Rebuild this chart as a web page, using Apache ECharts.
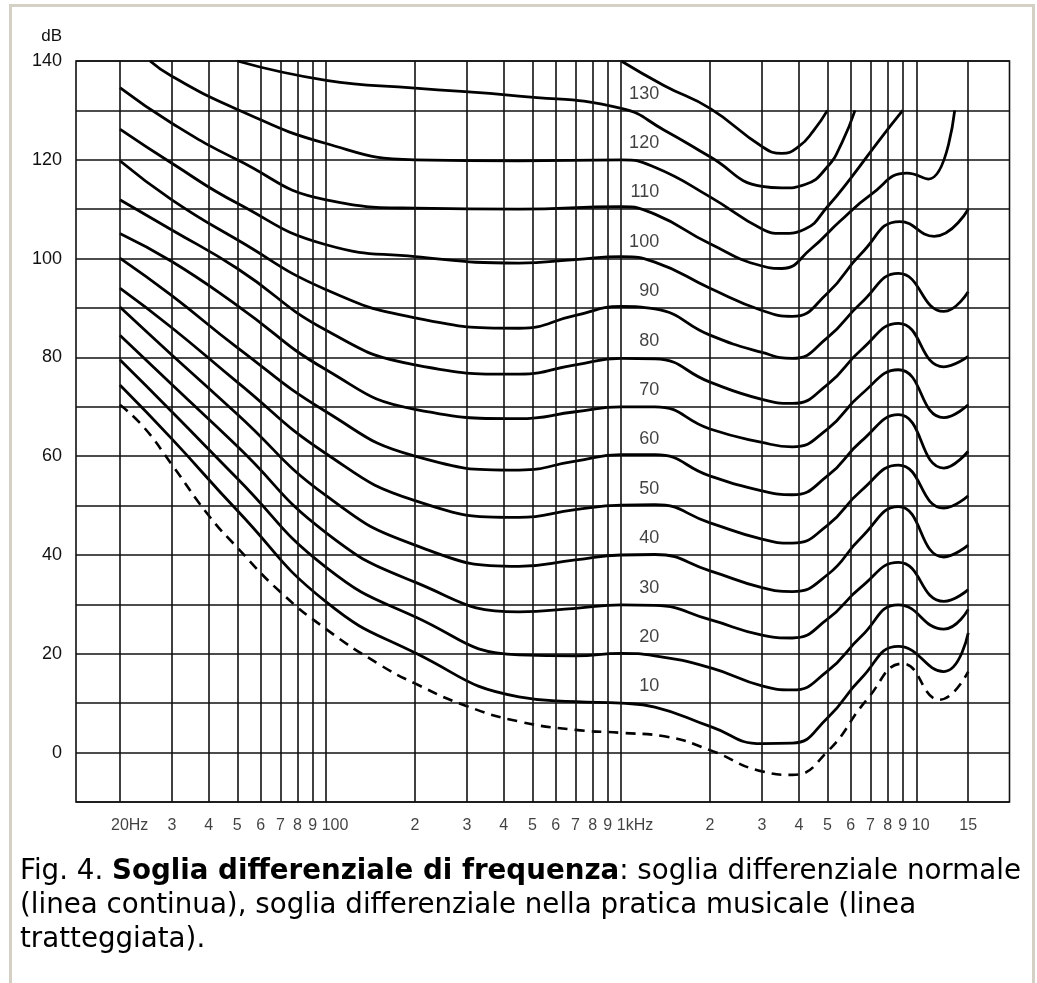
<!DOCTYPE html>
<html>
<head>
<meta charset="utf-8">
<title>Soglia differenziale di frequenza</title>
<script src="https://cdn.jsdelivr.net/npm/echarts@6/dist/echarts.min.js"></script>
<style>
  html, body { margin: 0; padding: 0; background: #fff; }
  #frame {
    position: absolute; left: 9px; top: 4px; width: 1020px; height: 1000px;
    border: 3px solid #d4d0c3; border-bottom: none;
  }
  #chart { position: absolute; left: 0; top: 0; width: 1037px; height: 860px; }
  #caption {
    position: absolute; left: 20px; top: 853px;
    font-family: 'DejaVu Sans', Verdana, sans-serif; font-size: 27.7px; line-height: 34px; color: #000;
    white-space: nowrap;
  }
</style>
</head>
<body>
<div id="frame"></div>
<div id="chart"></div>
<div id="caption">Fig. 4. <b>Soglia differenziale di frequenza</b>: soglia differenziale normale<br>(linea continua), soglia differenziale nella pratica musicale (linea<br>tratteggiata).</div>
<script>
// vertical grid lines and their labels (Hz)
var gridFreqs = [20, 30, 40, 50, 60, 70, 80, 90, 100, 200, 300, 400, 500, 600, 700, 800, 900,
  1000, 2000, 3000, 4000, 5000, 6000, 7000, 8000, 9000, 10000, 15000];
var tickLabels = ['20Hz', '3', '4', '5', '6', '7', '8', '9', '100', '2', '3', '4', '5', '6', '7', '8', '9',
  '1kHz', '2', '3', '4', '5', '6', '7', '8', '9', '10', '15'];

// curve names written next to 1 kHz
var phonLabels = [130, 120, 110, 100, 90, 80, 70, 60, 50, 40, 30, 20, 10];

// solid curves, [Hz, dB]
var phon10 = [[20, 74.4], [30, 63.5], [50, 49], [100, 30.5], [200, 20.2], [450, 11.3], [700, 10.3], [1000, 10],
  [1300, 9.2], [2000, 5.3], [3000, 1.8], [3800, 1.9], [5000, 7], [6500, 15], [8700, 21.5], [12400, 16.4], [15000, 24.2]];
var phon20 = [[20, 79.5], [30, 69], [50, 55.5], [100, 37.5], [200, 27.5], [450, 19.8], [700, 19.6], [1000, 20.1],
  [1300, 19.6], [2000, 17.2], [3000, 13.5], [3800, 12.7], [5000, 16.5], [6500, 23.5], [8700, 29.9], [12400, 25], [15000, 29]];
var phon30 = [[20, 84.5], [30, 74.5], [50, 62], [100, 44.5], [200, 34.5], [450, 28.5], [700, 29.2], [1000, 29.9],
  [1300, 29.8], [2000, 26.9], [3000, 23.8], [3800, 23.2], [5000, 27], [6500, 33.5], [8700, 38.5], [12400, 30.6], [15000, 33]];
var phon40 = [[20, 90.2], [30, 80.5], [50, 68.5], [100, 52], [200, 42], [450, 37.7], [700, 39], [1000, 40],
  [1300, 40.1], [2000, 36.8], [3000, 33.4], [3800, 32.6], [5000, 36], [6500, 43.5], [8700, 49.8], [12400, 39.6], [15000, 42]];
var phon50 = [[20, 94], [30, 86], [50, 75], [100, 60.5], [200, 51], [450, 47.6], [700, 49.2], [1000, 50.1],
  [1300, 50.2], [2000, 46.5], [3000, 43.2], [3800, 42.4], [5000, 46], [6500, 53], [8700, 58.2], [12400, 49.5], [15000, 52]];
var phon60 = [[20, 100.1], [30, 92.5], [50, 82], [100, 69], [200, 60], [450, 57.2], [700, 59], [1000, 60.3],
  [1300, 60.3], [2000, 56], [3000, 53], [3800, 52.2], [5000, 56], [6500, 63], [8700, 68.4], [12400, 57.6], [15000, 61]];
var phon70 = [[20, 105.1], [30, 99.4], [50, 90.5], [100, 77.5], [200, 69.5], [450, 67.6], [700, 69], [1000, 70],
  [1300, 70], [2000, 65.5], [3000, 62.8], [3800, 61.9], [5000, 65.5], [6500, 72.5], [8700, 77.5], [12400, 67.8], [15000, 70.4]];
var phon80 = [[20, 111.9], [30, 105.8], [50, 98], [100, 85.5], [200, 78.5], [450, 76.6], [700, 78.5], [1000, 79.8],
  [1300, 79.7], [2000, 75], [3000, 71.5], [3800, 70.7], [5000, 74.5], [6500, 81.5], [8700, 86.9], [12400, 78.1], [15000, 80.2]];
var phon90 = [[20, 119.8], [30, 111.9], [50, 103.8], [100, 93.7], [200, 88], [450, 85.9], [700, 88.5], [1000, 90.3],
  [1300, 89.8], [2000, 84.5], [3000, 81], [3800, 79.8], [5000, 84], [6500, 91], [8700, 97], [12400, 89.3], [15000, 93.3]];
var phon100 = [[20, 126.2], [30, 119.3], [50, 111.2], [100, 102.8], [200, 100.4], [450, 99.1], [700, 99.8], [1000, 100.4],
  [1300, 99.3], [2000, 94], [3000, 89.5], [3800, 88.3], [5000, 93], [6500, 101], [8800, 107.5], [11500, 104.5], [15000, 110]];
var phon110 = [[20, 134.6], [30, 127.4], [50, 120], [100, 111.9], [200, 110.2], [450, 110], [1000, 110.5],
  [1300, 109], [2000, 103], [3000, 98.5], [3500, 98], [4400, 102], [5500, 107.5], [7000, 112.9], [9300, 117.3], [11000, 116.1], [13500, 130]];
var phon120 = [[25.3, 140], [30, 136.9], [50, 130.2], [100, 123.3], [200, 120], [450, 119.8], [1000, 120],
  [1300, 118.5], [2000, 112.5], [3000, 106], [3500, 105.1], [4200, 106], [5000, 110.5], [6000, 116.3], [7500, 124], [9000, 130]];
var phon130 = [[50, 140], [100, 136.1], [200, 134.5], [450, 132.9], [1000, 130.4], [1400, 126], [2000, 120.6],
  [3000, 114.6], [3500, 114.3], [4200, 115], [5000, 118.6], [5600, 123.5], [6200, 130]];
var phon140 = [[1000, 140], [1400, 135], [2000, 130.4], [3000, 122.7], [3500, 121.3], [4000, 122.7], [4500, 126], [5000, 130]];

// dashed curve
var threshold = [[20, 70.4], [24, 66], [30, 58.3], [40, 48], [50, 41.5], [70, 32.5], [100, 25], [150, 18], [200, 14],
  [300, 9.4], [450, 6.3], [700, 4.6], [1000, 4], [1400, 3.3], [2000, 0.5], [3000, -3.8], [3800, -4.5], [5000, 0.2],
  [6800, 10.7], [9000, 18], [12000, 10.7], [15000, 16.4]];

var solidCurves = [phon10, phon20, phon30, phon40, phon50, phon60, phon70, phon80, phon90, phon100,
  phon110, phon120, phon130, phon140];

var xMin = 14.2, xMax = 20700, yMin = -10, yMax = 140;
var labelFreq = 1350, labelLift = 3.4;
var ink = '#111';
var sans = '"Liberation Sans", Arial, sans-serif';

// multi character tick labels sit with their first digits on the line
var tickAnchors = { '20Hz': '20', '100': '1', '1kHz': '1', '10': '1' };
var measureCtx = document.createElement('canvas').getContext('2d');
measureCtx.font = '16px ' + sans;
function tickShift(text) {
  var anchor = tickAnchors[text];
  if (!anchor) {
    return 0;
  }
  return (measureCtx.measureText(text).width - measureCtx.measureText(anchor).width) / 2;
}

var series = [];

solidCurves.forEach(function(curve) {
  series.push({
    type: 'line',
    data: curve,
    smooth: 0.5,
    symbol: 'none',
    silent: true,
    z: 3,
    lineStyle: { color: '#000', width: 2.8 }
  });
});

series.push({
  type: 'line',
  data: threshold,
  smooth: 0.5,
  symbol: 'none',
  silent: true,
  z: 3,
  lineStyle: { color: '#000', width: 2.6, type: [10, 7] },
  markLine: {
    silent: true,
    symbol: ['none', 'none'],
    label: { show: false },
    lineStyle: { color: ink, width: 1.6, type: 'solid' },
    data: gridFreqs.map(function(f) { return { xAxis: f }; })
  }
});

series.push({
  type: 'scatter',
  silent: true,
  z: 4,
  symbolSize: 1,
  itemStyle: { color: 'rgba(0,0,0,0)' },
  label: {
    show: true, position: 'left', distance: 0,
    fontSize: 18, fontFamily: sans, color: ink,
    formatter: function(p) { return p.value[2]; }
  },
  data: phonLabels.map(function(l) { return [labelFreq, l + labelLift, l]; })
});

series.push({
  type: 'scatter',
  silent: true,
  clip: false,
  symbolSize: 1,
  itemStyle: { color: 'rgba(0,0,0,0)' },
  label: { show: true, position: 'bottom', distance: 15, fontSize: 16, fontFamily: sans, color: ink },
  data: gridFreqs.map(function(f, i) {
    return {
      value: [f, yMin],
      label: { formatter: tickLabels[i], offset: [tickShift(tickLabels[i]), 0] }
    };
  })
});

var chart = echarts.init(document.getElementById('chart'));
chart.setOption({
  animation: false,
  grid: {
    left: 76, top: 61, right: 27.5, bottom: 58,
    show: true, borderColor: ink, borderWidth: 1.6
  },
  xAxis: {
    type: 'log',
    logBase: 10,
    min: xMin,
    max: xMax,
    axisLine: { show: false },
    axisTick: { show: false },
    axisLabel: { show: false },
    splitLine: { show: false }
  },
  yAxis: {
    type: 'value',
    min: yMin,
    max: yMax,
    interval: 10,
    name: 'dB',
    nameLocation: 'end',
    nameGap: 25,
    nameTextStyle: {
      fontSize: 17, fontFamily: sans, color: ink,
      align: 'right', verticalAlign: 'middle', padding: [0, 14, 0, 0]
    },
    axisLine: { show: false },
    axisTick: { show: false },
    axisLabel: {
      margin: 14, fontSize: 18, fontFamily: sans, color: ink,
      formatter: function(v) { return (v >= 0 && v % 20 === 0) ? String(v) : ''; }
    },
    splitLine: { show: true, lineStyle: { color: ink, width: 1.6 } }
  },
  series: series
});
</script>
</body>
</html>
